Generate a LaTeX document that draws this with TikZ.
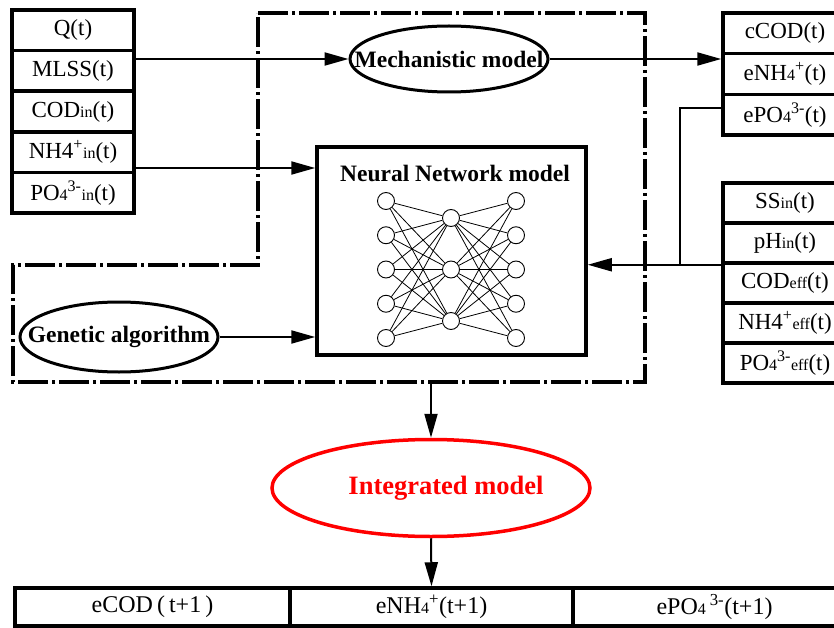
\documentclass[tikz,border=0pt]{standalone}
\usepackage{fontspec}
\setmainfont{Liberation Serif}
\usetikzlibrary{arrows.meta,shapes.geometric}
\newcommand\lowsm[1]{{\fontsize{16}{16}\selectfont #1}}
\begin{document}
\begin{tikzpicture}[x=1pt,y=-1pt,
  cellbox/.style={draw, line width=3.5pt, inner sep=0pt, font=\fontsize{23}{24}\selectfont},
  lcell/.style={cellbox, minimum width=122pt, minimum height=40.6pt},
  rcell/.style={cellbox, minimum width=124pt, minimum height=40.7pt},
  scell/.style={cellbox, minimum width=124pt, minimum height=40pt},
  outcell/.style={cellbox, minimum height=38pt, font=\fontsize{24}{25}\selectfont},
  oval/.style={draw, ellipse, line width=3pt, inner sep=0pt},
  lbl/.style={font=\fontsize{23.5}{25}\selectfont\bfseries},
  arr/.style={line width=2pt, -{Triangle[length=24pt,width=13pt]}},
  wire/.style={line width=2pt},
  neuron/.style={draw, circle, line width=0.9pt, minimum size=17pt, inner sep=0pt},
  syn/.style={line width=0.8pt},
  region/.style={line width=4pt, line join=miter, dash pattern=on 30pt off 4pt on 3pt off 4pt}
]
\useasboundingbox (0,0) rectangle (834,628);
\clip (0,0) rectangle (834,628);
\fill[white] (0,0) rectangle (834,628);

% dash-dot region
\draw[region] (258,13) -- (645,13) -- (645,382) -- (13,382) -- (13,265) -- (258,265) -- cycle;

% left input box
\node[lcell] (l1) at (73,30.3) {Q(t)};
\node[lcell] (l2) at (73,70.9) {MLSS(t)};
\node[lcell] (l3) at (73,111.5) {COD\lowsm{in}(t)};
\node[lcell] (l4) at (73,152.1) {NH4\textsuperscript{+}\lowsm{in}(t)};
\node[lcell] (l5) at (73,192.7) {PO\lowsm{4}\textsuperscript{3-}\lowsm{in}(t)};

% right top box
\node[rcell] (r1) at (785,33.3) {cCOD(t)};
\node[rcell] (r2) at (785,74) {eNH\lowsm{4}\textsuperscript{+}(t)};
\node[rcell] (r3) at (785,114.7) {ePO\lowsm{4}\textsuperscript{3-}(t)};

% right lower box
\node[scell] (s1) at (785,203) {SS\lowsm{in}(t)};
\node[scell] (s2) at (785,243) {pH\lowsm{in}(t)};
\node[scell] (s3) at (785,283) {COD\lowsm{eff}(t)};
\node[scell] (s4) at (785,323) {NH4\textsuperscript{+}\lowsm{eff}(t)};
\node[scell] (s5) at (785,363) {PO\lowsm{4}\textsuperscript{3-}\lowsm{eff}(t)};

% ellipses
\node[oval, minimum width=198pt, minimum height=66pt] (mech) at (449,59) {};
\node[lbl] (mechT) at (mech) {Mechanistic model};
\node[oval, minimum width=198pt, minimum height=70pt] (ga) at (119,337) {};
\node[lbl] (gaT) at (ga) {Genetic algorithm};
\node[oval, draw=red, line width=3.5pt, minimum width=318pt, minimum height=97pt] (integ) at (431,488) {};
\node[font=\fontsize{26.5}{28}\selectfont\bfseries, text=red] (integT) at (446,488) {Integrated model};

% neural network box
\node[draw, line width=3.5pt, minimum width=269pt, minimum height=208pt, inner sep=0pt] (nn) at (451.5,251) {};
\node[lbl] (nnT) at (455,173) {Neural Network model};
\foreach \i/\y in {1/201,2/235.25,3/269.5,4/303.75,5/338} {
  \node[neuron] (a\i) at (386,\y) {};
  \node[neuron] (c\i) at (516,\y) {};
}
\foreach \j/\y in {1/218,2/269.5,3/321} {
  \node[neuron] (b\j) at (451,\y) {};
}
\foreach \i in {1,...,5} {
  \foreach \j in {1,2,3} {
    \draw[syn] (a\i) -- (b\j);
    \draw[syn] (b\j) -- (c\i);
  }
}

% output box
\node[outcell, minimum width=275pt] (o1) at (152.5,607) {eCOD\,(\,t+1\,)};
\node[outcell, minimum width=283pt] (o2) at (431.5,607) {eNH\lowsm{4}\textsuperscript{+}(t+1)};
\node[outcell, minimum width=283pt] (o3) at (714.5,607) {ePO\lowsm{4}\,\textsuperscript{3-}(t+1)};

% connectors
\draw[arr] (mech.west -| l2.east) -- (mech.west);
\draw[arr] (mech.east) -- (mech.east -| r2.west);
\coordinate (nhy) at (0,168);
\draw[arr] (l4.east |- nhy) -- (nn.west |- nhy);
\coordinate (pjoin) at (680,108);
\draw[wire] (r3.west |- pjoin) -- (pjoin) -- (pjoin |- s2.south west);
\draw[arr] (s2.south west) -- (s2.south west -| nn.east);
\draw[arr] (ga.east) -- (ga.east -| nn.west);
\coordinate (dtop) at (431,382);
\draw[arr] (dtop) -- (integ.north);
\draw[arr] (integ.south) -- (o2.north);
\end{tikzpicture}
\end{document}
